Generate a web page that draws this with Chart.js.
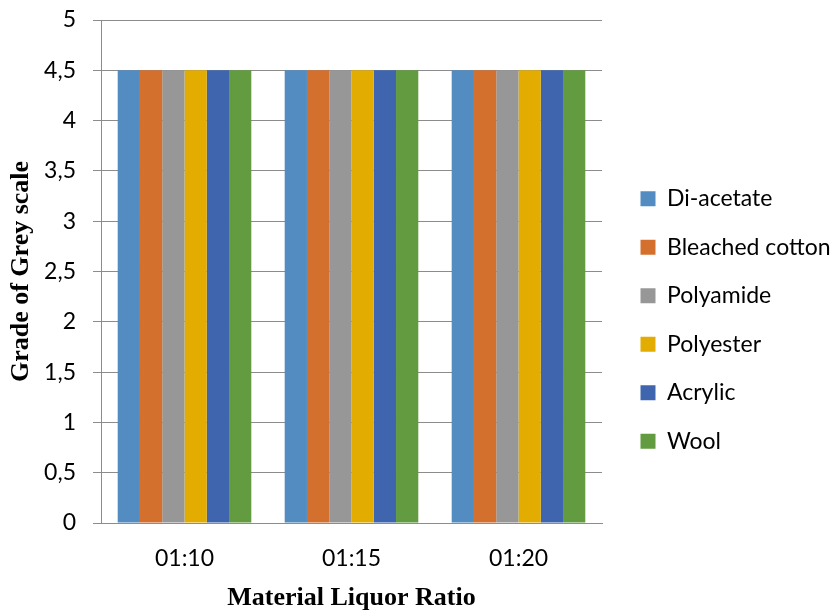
<!DOCTYPE html>
<html>
<head>
<meta charset="utf-8">
<script src="https://cdn.jsdelivr.net/npm/chart.js@4.4.1/dist/chart.umd.min.js"></script>
<style>
  html, body { margin: 0; padding: 0; background: #fff; }
  #wrap { width: 840px; height: 614px; position: relative; }
</style>
</head>
<body>
<div id="wrap"><canvas id="c"></canvas></div>
<script>
// ratios on the x axis
const ratios = ["01:10", "01:15", "01:20"];

// grey-scale grade per material (same for every ratio)
const diAcetate = [4.5, 4.5, 4.5];
const bleachedCotton = [4.5, 4.5, 4.5];
const polyamide = [4.5, 4.5, 4.5];
const polyester = [4.5, 4.5, 4.5];
const acrylic = [4.5, 4.5, 4.5];
const wool = [4.5, 4.5, 4.5];

const yTicks = [0, 0.5, 1, 1.5, 2, 2.5, 3, 3.5, 4, 4.5, 5];

const palette = ["#528cc0", "#d4702e", "#979797", "#e3ac00", "#3e65ae", "#629b40"];
const gridColor = "#8c8c8c";
const tickFont = { family: "Lato", size: 23 };
const titleFont = { family: "Liberation Serif", size: 26, weight: "bold", lineHeight: 1.2 };

const series = [
  ["Di-acetate", diAcetate],
  ["Bleached cotton", bleachedCotton],
  ["Polyamide", polyamide],
  ["Polyester", polyester],
  ["Acrylic", acrylic],
  ["Wool", wool],
];

const datasets = series.map(([label, data], i) => ({
  label,
  data,
  backgroundColor: palette[i],
  borderWidth: 0,
  categoryPercentage: 0.8,
  barPercentage: 1,
}));

// nudge the legend a few pixels down, like the original
const legendShift = {
  id: "legendShift",
  afterLayout(chart) {
    const lg = chart.legend;
    if (!lg) return;
    lg.top += 3;
    lg.bottom += 3;
  },
};

new Chart(document.getElementById("c"), {
  type: "bar",
  data: { labels: ratios, datasets },
  plugins: [legendShift],
  options: {
    responsive: true,
    maintainAspectRatio: false,
    animation: false,
    layout: { padding: { top: 20, left: 4, right: 0, bottom: 0 } },
    plugins: {
      tooltip: { enabled: false },
      legend: {
        position: "right",
        maxWidth: 225,
        labels: {
          boxWidth: 15,
          boxHeight: 15,
          padding: 25.5,
          color: "#000",
          font: tickFont,
        },
      },
    },
    scales: {
      x: {
        afterFit: (scale) => { scale.height = 91; },
        grid: { display: false },
        border: { display: true, color: gridColor },
        ticks: { color: "#000", font: tickFont, padding: 14 },
        title: { display: true, text: "Material Liquor Ratio", color: "#000", font: titleFont, padding: { top: 9, bottom: 0 } },
      },
      y: {
        min: 0,
        max: 5,
        afterBuildTicks: (scale) => { scale.ticks = yTicks.map((v) => ({ value: v })); },
        afterFit: (scale) => {
          scale.width = 97;
          scale.paddingTop = 0;
          scale.paddingBottom = 0;
        },
        grid: { color: gridColor, tickLength: 8 },
        border: { color: gridColor },
        ticks: {
          color: "#000",
          font: tickFont,
          padding: 17,
          callback: (v) => String(v).replace(".", ","),
        },
        title: { display: true, text: "Grade of Grey scale", color: "#000", font: titleFont, padding: { top: 2, bottom: 0 } },
      },
      gap: {
        position: "right",
        grid: { display: false, drawOnChartArea: false },
        border: { display: false },
        ticks: { display: false },
        afterFit: (scale) => { scale.width = 13; },
      },
    },
  },
});
</script>
</body>
</html>
